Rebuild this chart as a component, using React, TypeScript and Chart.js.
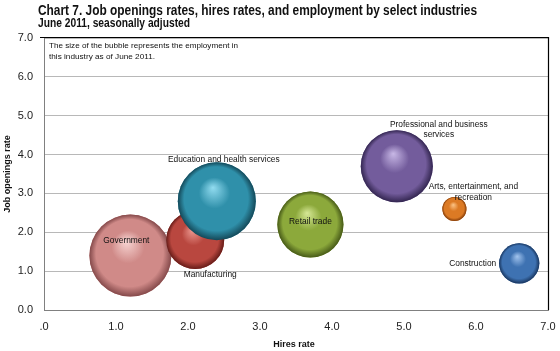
import React, { useEffect, useRef } from "react";
import { Chart, registerables } from "chart.js";
Chart.register(...registerables);

// ---- Data ----
const industries = [
  "Government",
  "Manufacturing",
  "Education and health services",
  "Retail trade",
  "Professional and business services",
  "Arts, entertainment, and recreation",
  "Construction",
];
const hiresRate = [1.2, 2.1, 2.4, 3.7, 4.9, 5.7, 6.6];
const jobOpeningsRate = [1.4, 1.8, 2.8, 2.2, 3.7, 2.6, 1.2];
const employmentThousands = [22000, 11000, 19900, 14300, 17000, 1900, 5300];
const xTickLabels = [".0", "1.0", "2.0", "3.0", "4.0", "5.0", "6.0", "7.0"];
const yTickLabels = ["0.0", "1.0", "2.0", "3.0", "4.0", "5.0", "6.0", "7.0"];
const labelLines = [
  ["Government"],
  ["Manufacturing"],
  ["Education and health services"],
  ["Retail trade"],
  ["Professional and business", "services"],
  ["Arts, entertainment, and", "recreation"],
  ["Construction"],
];
const titleText = "Chart 7. Job openings rates, hires rates, and employment by select industries";
const subtitleText = "June 2011, seasonally adjusted";
const noteLines = [
  "The size of the bubble represents the employment in",
  "this industry as of June 2011.",
];
const xTitle = "Hires rate";
const yTitle = "Job openings rate";

// ---- Styles ----
const bubbleColors = [
  { hi: "#f8d6d4", base: "#d08a88", edge: "#84494a" },
  { hi: "#ec9a92", base: "#b9473f", edge: "#661c18" },
  { hi: "#92dcf0", base: "#2f90aa", edge: "#144858" },
  { hi: "#d6e896", base: "#8ca93b", edge: "#475a18" },
  { hi: "#c8b8e6", base: "#735c9c", edge: "#332650" },
  { hi: "#fcc486", base: "#dc7a24", edge: "#833c0a" },
  { hi: "#a2c4ee", base: "#3e72b2", edge: "#19365f" },
];
// label placement relative to bubble center (pixels) and alignment
const labelPlacement = [
  { dx: -4, dy: -15, align: "center" },
  { dx: 15, dy: 35, align: "center" },
  { dx: 7, dy: -42, align: "center" },
  { dx: 0, dy: -3, align: "center" },
  { dx: 42, dy: -42, align: "center" },
  { dx: 19, dy: -22, align: "center" },
  { dx: -23, dy: 0, align: "right" },
];
const RADIUS_K = 0.2764; // px per sqrt(thousand employees)
const labelFont = "8.4px 'Liberation Sans', Arial, sans-serif";
const tickFont = { family: "'Liberation Sans', Arial, sans-serif", size: 11 };

function fillFit(ctx: CanvasRenderingContext2D, text: string, x: number, y: number, w: number) {
  const m = ctx.measureText(text).width;
  ctx.save();
  ctx.translate(x, y);
  ctx.scale(w / m, 1);
  ctx.fillText(text, 0, 0);
  ctx.restore();
}

const decorPlugin = {
  id: "decor",
  afterDatasetsDraw(chart: any) {
    const ctx = chart.ctx as CanvasRenderingContext2D;
    const meta = chart.getDatasetMeta(0);
    ctx.save();
    meta.data.forEach((el: any, i: number) => {
      const r = el.options.radius;
      const cx = el.x;
      const cy = el.y;
      if (![r, cx, cy].every(Number.isFinite) || r <= 0) return;
      const col = bubbleColors[i];
      const g = ctx.createRadialGradient(cx - 0.1 * r, cy - 0.35 * r, 0, cx, cy, r);
      g.addColorStop(0, col.hi);
      g.addColorStop(0.4, col.base);
      g.addColorStop(0.82, col.base);
      g.addColorStop(1, col.edge);
      ctx.fillStyle = g;
      ctx.beginPath();
      ctx.arc(cx, cy, r, 0, Math.PI * 2);
      ctx.fill();
    });
    ctx.fillStyle = "#111";
    ctx.font = labelFont;
    ctx.textBaseline = "middle";
    meta.data.forEach((el: any, i: number) => {
      const p = labelPlacement[i];
      ctx.textAlign = p.align as CanvasTextAlign;
      labelLines[i].forEach((line, j) => {
        ctx.fillText(line, el.x + p.dx, el.y + p.dy + j * 10.5);
      });
    });
    ctx.restore();
  },
  afterDraw(chart: any) {
    const ctx = chart.ctx as CanvasRenderingContext2D;
    const a = chart.chartArea;
    ctx.save();
    ctx.strokeStyle = "#000";
    ctx.lineWidth = 1.2;
    ctx.beginPath();
    ctx.moveTo(a.left - 4, a.top - 0.5);
    ctx.lineTo(a.right + 0.5, a.top - 0.5);
    ctx.lineTo(a.right + 0.5, a.bottom);
    ctx.stroke();
    ctx.fillStyle = "#111";
    ctx.textBaseline = "alphabetic";
    ctx.textAlign = "left";
    ctx.font = "bold 14px 'Liberation Sans', Arial, sans-serif";
    fillFit(ctx, titleText, 38, 15, 439);
    ctx.font = "bold 12px 'Liberation Sans', Arial, sans-serif";
    fillFit(ctx, subtitleText, 38, 27, 152);
    ctx.font = "8px 'Liberation Sans', Arial, sans-serif";
    ctx.textBaseline = "middle";
    fillFit(ctx, noteLines[0], 49, 46, 189);
    fillFit(ctx, noteLines[1], 49, 57, 106);
    ctx.font = "bold 9px 'Liberation Sans', Arial, sans-serif";
    ctx.textAlign = "center";
    ctx.fillText(xTitle, (a.left + a.right) / 2 - 2, 345);
    ctx.save();
    ctx.translate(8, (a.top + a.bottom) / 2);
    ctx.rotate(-Math.PI / 2);
    ctx.fillText(yTitle, 0, 0);
    ctx.restore();
    ctx.restore();
  },
};

export default function App() {
  const ref = useRef<HTMLCanvasElement>(null);
  useEffect(() => {
    document.body.style.margin = "0";
    const data = industries.map((_, i) => ({
      x: hiresRate[i],
      y: jobOpeningsRate[i],
      r: RADIUS_K * Math.sqrt(employmentThousands[i]),
    }));
    const chart = new Chart(ref.current!, {
      type: "bubble",
      data: {
        labels: industries,
        datasets: [
          {
            label: "Industries",
            data,
            borderWidth: 0,
            hoverBorderWidth: 0,
            backgroundColor: bubbleColors.map((c) => c.base),
          },
        ],
      },
      options: {
        animation: false,
        responsive: true,
        maintainAspectRatio: false,
        layout: { autoPadding: false, padding: { left: 0, right: 12, top: 38, bottom: 0 } },
        plugins: { legend: { display: false }, title: { display: false }, tooltip: { enabled: false } },
        scales: {
          x: {
            type: "linear",
            min: 0,
            max: 7,
            afterFit: (s: any) => { s.height = 41; s.paddingLeft = 0; s.paddingRight = 0; },
            grid: { display: false, drawTicks: false },
            border: { display: true, color: "#808080", width: 1 },
            ticks: {
              stepSize: 1,
              padding: 10,
              color: "#222",
              font: tickFont,
              callback: (_v: any, i: number) => xTickLabels[i],
            },
          },
          y: {
            type: "linear",
            min: 0,
            max: 7,
            afterFit: (s: any) => { s.width = 44; s.paddingTop = 0; s.paddingBottom = 0; },
            grid: { color: "#b8b8b8", drawTicks: false, lineWidth: 1 },
            border: { display: true, color: "#808080", width: 1 },
            ticks: {
              stepSize: 1,
              padding: 11,
              color: "#222",
              font: tickFont,
              callback: (_v: any, i: number) => yTickLabels[i],
            },
          },
        },
      },
      plugins: [decorPlugin],
    });
    return () => chart.destroy();
  }, []);
  return (
    <div style={{ width: 560, height: 351, position: "relative" }}>
      <canvas ref={ref} />
    </div>
  );
}
